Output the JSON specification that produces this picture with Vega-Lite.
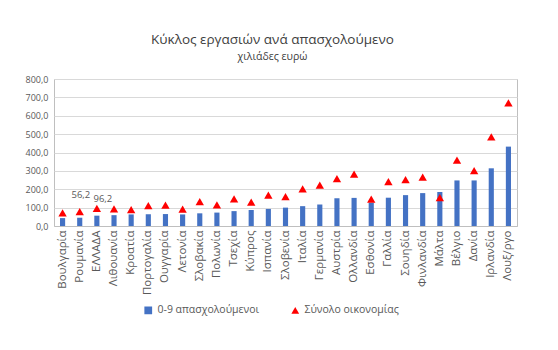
{
  "$schema": "https://vega.github.io/schema/vega-lite/v6.json",
  "width": 463,
  "height": 147,
  "autosize": {"type": "none"},
  "padding": {"left": 54, "top": 79, "right": 41, "bottom": 124},
  "background": "white",
  "title": {
    "text": "Κύκλος εργασιών ανά απασχολούμενο",
    "subtitle": "χιλιάδες ευρώ",
    "font": "Open Sans",
    "fontSize": 13.5,
    "fontWeight": "normal",
    "color": "#404040",
    "subtitleFont": "Open Sans",
    "subtitleFontSize": 10.5,
    "subtitleColor": "#404040",
    "subtitlePadding": 5,
    "anchor": "middle",
    "dx": -13,
    "offset": 13
  },
  "data": {
    "values": [
      {"country": "Βουλγαρία", "series": "0-9 απασχολούμενοι", "value": 43},
      {"country": "Ρουμανία", "series": "0-9 απασχολούμενοι", "value": 45},
      {"country": "ΕΛΛΑΔΑ", "series": "0-9 απασχολούμενοι", "value": 56.2},
      {"country": "Λιθουανία", "series": "0-9 απασχολούμενοι", "value": 59},
      {"country": "Κροατία", "series": "0-9 απασχολούμενοι", "value": 63},
      {"country": "Πορτογαλία", "series": "0-9 απασχολούμενοι", "value": 64},
      {"country": "Ουγγαρία", "series": "0-9 απασχολούμενοι", "value": 65},
      {"country": "Λετονία", "series": "0-9 απασχολούμενοι", "value": 63},
      {"country": "Σλοβακία", "series": "0-9 απασχολούμενοι", "value": 69},
      {"country": "Πολωνία", "series": "0-9 απασχολούμενοι", "value": 73},
      {"country": "Τσεχία", "series": "0-9 απασχολούμενοι", "value": 81},
      {"country": "Κύπρος", "series": "0-9 απασχολούμενοι", "value": 87},
      {"country": "Ισπανία", "series": "0-9 απασχολούμενοι", "value": 93},
      {"country": "Σλοβενία", "series": "0-9 απασχολούμενοι", "value": 100},
      {"country": "Ιταλία", "series": "0-9 απασχολούμενοι", "value": 108},
      {"country": "Γερμανία", "series": "0-9 απασχολούμενοι", "value": 117},
      {"country": "Αυστρία", "series": "0-9 απασχολούμενοι", "value": 151},
      {"country": "Ολλανδία", "series": "0-9 απασχολούμενοι", "value": 153},
      {"country": "Εσθονία", "series": "0-9 απασχολούμενοι", "value": 127},
      {"country": "Γαλλία", "series": "0-9 απασχολούμενοι", "value": 154},
      {"country": "Σουηδία", "series": "0-9 απασχολούμενοι", "value": 168},
      {"country": "Φινλανδία", "series": "0-9 απασχολούμενοι", "value": 179},
      {"country": "Μάλτα", "series": "0-9 απασχολούμενοι", "value": 185},
      {"country": "Βέλγιο", "series": "0-9 απασχολούμενοι", "value": 248},
      {"country": "Δανία", "series": "0-9 απασχολούμενοι", "value": 248},
      {"country": "Ιρλανδία", "series": "0-9 απασχολούμενοι", "value": 314},
      {"country": "Λουξ/ργο", "series": "0-9 απασχολούμενοι", "value": 432},
      {"country": "Βουλγαρία", "series": "Σύνολο οικονομίας", "value": 72},
      {"country": "Ρουμανία", "series": "Σύνολο οικονομίας", "value": 78},
      {"country": "ΕΛΛΑΔΑ", "series": "Σύνολο οικονομίας", "value": 96.2},
      {"country": "Λιθουανία", "series": "Σύνολο οικονομίας", "value": 93},
      {"country": "Κροατία", "series": "Σύνολο οικονομίας", "value": 89},
      {"country": "Πορτογαλία", "series": "Σύνολο οικονομίας", "value": 111},
      {"country": "Ουγγαρία", "series": "Σύνολο οικονομίας", "value": 114},
      {"country": "Λετονία", "series": "Σύνολο οικονομίας", "value": 92},
      {"country": "Σλοβακία", "series": "Σύνολο οικονομίας", "value": 132},
      {"country": "Πολωνία", "series": "Σύνολο οικονομίας", "value": 115},
      {"country": "Τσεχία", "series": "Σύνολο οικονομίας", "value": 148},
      {"country": "Κύπρος", "series": "Σύνολο οικονομίας", "value": 130},
      {"country": "Ισπανία", "series": "Σύνολο οικονομίας", "value": 168},
      {"country": "Σλοβενία", "series": "Σύνολο οικονομίας", "value": 160},
      {"country": "Ιταλία", "series": "Σύνολο οικονομίας", "value": 202},
      {"country": "Γερμανία", "series": "Σύνολο οικονομίας", "value": 223},
      {"country": "Αυστρία", "series": "Σύνολο οικονομίας", "value": 258},
      {"country": "Ολλανδία", "series": "Σύνολο οικονομίας", "value": 282},
      {"country": "Εσθονία", "series": "Σύνολο οικονομίας", "value": 146},
      {"country": "Γαλλία", "series": "Σύνολο οικονομίας", "value": 241},
      {"country": "Σουηδία", "series": "Σύνολο οικονομίας", "value": 253},
      {"country": "Φινλανδία", "series": "Σύνολο οικονομίας", "value": 266},
      {"country": "Μάλτα", "series": "Σύνολο οικονομίας", "value": 155},
      {"country": "Βέλγιο", "series": "Σύνολο οικονομίας", "value": 358},
      {"country": "Δανία", "series": "Σύνολο οικονομίας", "value": 301},
      {"country": "Ιρλανδία", "series": "Σύνολο οικονομίας", "value": 485},
      {"country": "Λουξ/ργο", "series": "Σύνολο οικονομίας", "value": 670}
    ]
  },
  "encoding": {
    "x": {
      "field": "country",
      "type": "nominal",
      "sort": null,
      "scale": {"paddingInner": 0.7, "paddingOuter": 0.35},
      "axis": {
        "title": null,
        "labelAngle": -90,
        "ticks": false,
        "labelPadding": 4,
        "labelFontSize": 11.5,
        "domainColor": "#BFBFBF"
      }
    },
    "y": {
      "field": "value",
      "type": "quantitative",
      "scale": {"domain": [0, 800]},
      "axis": {
        "title": null,
        "values": [0, 100, 200, 300, 400, 500, 600, 700, 800],
        "format": ".1f",
        "ticks": false,
        "domain": false,
        "labelPadding": 6,
        "labelFontSize": 9,
        "gridColor": "#D9D9D9"
      }
    }
  },
  "layer": [
    {
      "transform": [{"filter": "datum.series === '0-9 απασχολούμενοι'"}],
      "mark": {"type": "bar"},
      "encoding": {
        "color": {
          "field": "series",
          "type": "nominal",
          "scale": {"domain": ["0-9 απασχολούμενοι", "Σύνολο οικονομίας"], "range": ["#4472C4", "#FF0000"]},
          "legend": {"title": null, "orient": "none", "direction": "horizontal", "legendX": 89, "legendY": 226, "columnPadding": 30, "labelFontSize": 10.5, "symbolSize": 60, "labelColor": "#595959", "labelFont": "Open Sans"}
        }
      }
    },
    {
      "transform": [{"filter": "datum.series === 'Σύνολο οικονομίας'"}],
      "mark": {"type": "point", "filled": true, "opacity": 1, "size": 70},
      "encoding": {
        "color": {"field": "series", "type": "nominal"},
        "shape": {
          "field": "series",
          "type": "nominal",
          "scale": {"domain": ["0-9 απασχολούμενοι", "Σύνολο οικονομίας"], "range": ["square", "triangle-up"]},
          "legend": {"title": null, "orient": "none", "direction": "horizontal", "legendX": 89, "legendY": 226, "columnPadding": 30, "labelFontSize": 10.5, "symbolSize": 60, "labelColor": "#595959", "labelFont": "Open Sans"}
        }
      }
    },
    {
      "transform": [{"filter": "datum.country === 'ΕΛΛΑΔΑ' && datum.series === '0-9 απασχολούμενοι'"}],
      "mark": {"type": "text", "dx": -16, "dy": -21, "fontSize": 9.5, "color": "#595959", "font": "Open Sans"},
      "encoding": {"text": {"field": "value", "type": "quantitative", "format": ".1f"}}
    },
    {
      "transform": [{"filter": "datum.country === 'ΕΛΛΑΔΑ' && datum.series === 'Σύνολο οικονομίας'"}],
      "mark": {"type": "text", "dx": 6, "dy": -9, "fontSize": 9.5, "color": "#595959", "font": "Open Sans"},
      "encoding": {"text": {"field": "value", "type": "quantitative", "format": ".1f"}}
    }
  ],
  "config": {
    "locale": {"number": {"decimal": ",", "thousands": ".", "grouping": [3], "currency": ["", " €"]}},
    "font": "Open Sans",
    "view": {"stroke": "#BFBFBF"},
    "axis": {"labelColor": "#595959", "labelFont": "Open Sans"}
  }
}
